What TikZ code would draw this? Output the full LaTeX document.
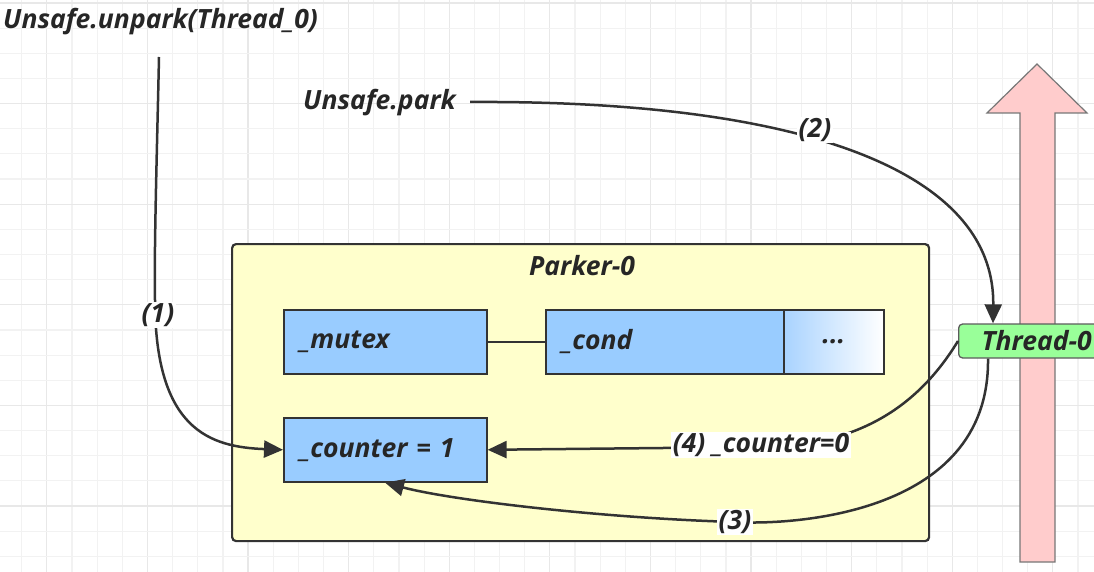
\documentclass[tikz,border=0pt]{standalone}
\usepackage{fontspec}
\setmainfont{Open Sans}[BoldFont={* Bold}, BoldItalicFont={* Bold Italic}]
\usetikzlibrary{arrows.meta,calc}
\definecolor{gridc}{HTML}{F2F2F2}
\definecolor{gridd}{HTML}{E8E8E8}
\definecolor{ink}{HTML}{262626}
\definecolor{edgec}{HTML}{333333}
\definecolor{parkerfill}{HTML}{FFFFCC}
\definecolor{bluefill}{HTML}{99CCFF}
\definecolor{greenfill}{HTML}{99FF99}
\definecolor{pinkfill}{HTML}{FFCCCC}
\definecolor{pinkedge}{HTML}{777777}
\definecolor{dotsleft}{HTML}{A9D3FF}
\begin{document}
\begin{tikzpicture}[x=1pt,y=-1pt,
  every node/.style={font=\bfseries\itshape\fontsize{26.5}{31}\selectfont, text=ink},
  conn/.style={draw=edgec, line width=2.5pt, -{Triangle[length=19pt,width=17pt]}},
  plainline/.style={draw=edgec, line width=2.5pt},
  lbl/.style={fill=white, inner sep=1.5pt},
  field/.style={draw=edgec, line width=1.6pt, fill=bluefill, anchor=north west,
    minimum height=64pt, align=left, inner xsep=16pt},
  parkerbox/.style={draw=edgec, line width=2.2pt, fill=parkerfill, rounded corners=4pt,
    anchor=north west, minimum width=697pt, minimum height=297pt},
  threadbox/.style={draw=edgec!80, line width=1.3pt, fill=greenfill, rounded corners=4pt,
    anchor=west, minimum height=34pt, inner xsep=23pt, inner ysep=0pt}
]
\useasboundingbox (0,0) rectangle (1094,572);
\fill[white] (0,0) rectangle (1094,572);
% grid
\foreach \k in {0,...,43} {
  \pgfmathsetmacro{\gx}{21.7+25.15*\k}
  \pgfmathtruncatemacro{\m}{mod(\k,4)}
  \ifnum\m=1 \draw[gridd, line width=1.2pt] (\gx,0) -- (\gx,572);
  \else \draw[gridc, line width=1.2pt] (\gx,0) -- (\gx,572); \fi
}
\foreach \k in {0,...,22} {
  \pgfmathsetmacro{\gy}{3+25.15*\k}
  \pgfmathtruncatemacro{\m}{mod(\k,4)}
  \ifnum\m=0 \draw[gridd, line width=1.2pt] (0,\gy) -- (1094,\gy);
  \else \draw[gridc, line width=1.2pt] (0,\gy) -- (1094,\gy); \fi
}

% pink arrow
\draw[fill=pinkfill, draw=pinkedge, line width=1.2pt]
  (1020,562) -- (1020,113) -- (987,113) -- (1037,64) -- (1087,113) -- (1055,113) -- (1055,562) -- cycle;

% texts
\node[anchor=west, inner sep=0pt] (unpark) at (3,22) {Unsafe.unpark(Thread\_0)};
\node[anchor=west, inner sep=0pt] (park) at (303,103) {Unsafe.park};

% Parker box
\node[parkerbox] (parker) at (231,243) {};
\node (ptitle) at (582,266) {Parker-0};
\node[field, minimum width=203pt, text width=171pt] (mutex) at (283,309) {\_mutex};
\node[field, minimum width=238pt, text width=206pt] (cond) at (545,309) {\_cond};
\node[draw=edgec, line width=1.6pt, anchor=north west, minimum width=100pt, minimum height=64pt,
  left color=dotsleft, right color=white] (dots) at (783,309) {...};
\node[field, minimum width=203pt, text width=171pt] (counter) at (283,417) {\_counter = 1};
\draw[plainline] (mutex.east) -- (cond.west);

% thread node
\node[threadbox] (thread) at (958,341) {Thread-0};

% free ends
\coordinate (unparkstart) at (159,57);
\coordinate (parkstart) at (470,102);

% (1)
\draw[conn] (unparkstart) .. controls (157,150) and (154,250) .. (155,300)
  .. controls (155,430) and (210,447) .. (counter.west);
% (2)
\draw[conn] (parkstart) .. controls (800,100) and (995,170) .. ($(thread.north west)+(35,0)$);
% (3)
\draw[conn] ($(thread.south west)+(30,0)$) .. controls (990,520) and (780,525) .. (735,522)
  .. controls (600,518) and (450,500) .. ($(counter.south west)+(102,0)$);
% (4)
\draw[conn] (thread.west) .. controls (925,395) and (870,447) .. (760,447) -- (counter.east);

% labels
\node[lbl] (l1) at (158,315) {(1)};
\node[lbl] (l2) at (815,130) {(2)};
\node[lbl] (l3) at (735,522) {(3)};
\node[lbl] (l4) at (761,445) {(4) \_counter=0};
\end{tikzpicture}
\end{document}
